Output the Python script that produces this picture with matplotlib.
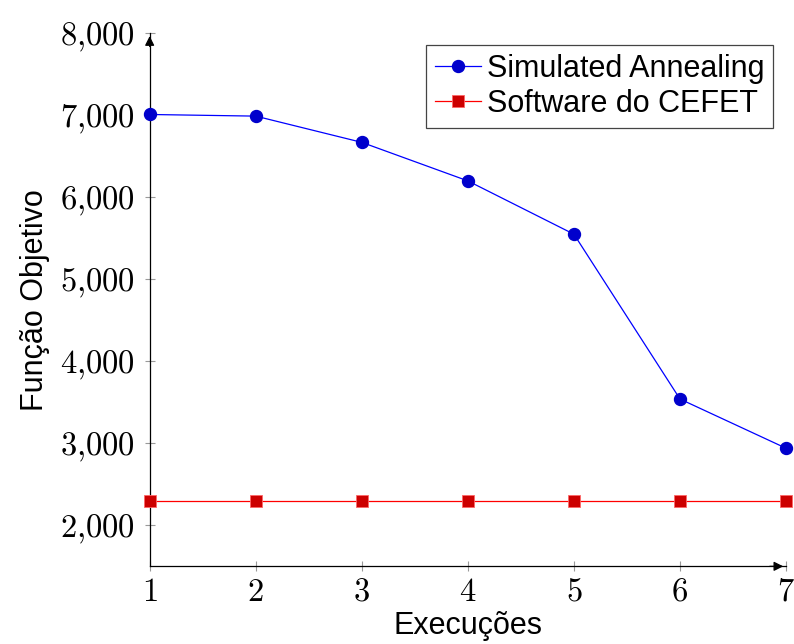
import matplotlib
matplotlib.use("Agg")
import matplotlib.pyplot as plt

plt.rcParams['font.family'] = ['Liberation Sans', 'DejaVu Sans']
plt.rcParams['mathtext.fontset'] = 'cm'

execucoes = [1, 2, 3, 4, 5, 6, 7]
simulated_annealing = [7010, 6990, 6670, 6200, 5550, 3540, 2940]
software_cefet = [2300, 2300, 2300, 2300, 2300, 2300, 2300]
y_ticks = [2000, 3000, 4000, 5000, 6000, 7000, 8000]

fig = plt.figure(figsize=(7.94, 6.44), dpi=100)
ax = fig.add_axes([0.1885, 0.1206, 0.8015, 0.8277])

ax.plot(execucoes, simulated_annealing, color='blue', lw=0.9, marker='o', ms=8.6,
        mfc='#0000cc', mec='#0000cc', label='Simulated Annealing', clip_on=False, zorder=3)
ax.plot(execucoes, software_cefet, color='red', lw=0.9, marker='s', ms=8.0,
        mfc='#cc0000', mec='#ff6666', mew=0.6, label='Software do CEFET', clip_on=False, zorder=3)

ax.set_xlim(1, 7)
ax.set_ylim(1500, 8000)
ax.set_xticks(execucoes)
ax.set_xticklabels([f'${v}$' for v in execucoes])
ax.set_yticks(y_ticks)
ax.set_yticklabels([f'${v // 1000}{{,}}000$' for v in y_ticks])

for s in ['top', 'right']:
    ax.spines[s].set_visible(False)
for s in ['left', 'bottom']:
    ax.spines[s].set_linewidth(0.9)
ax.tick_params(direction='inout', length=7, width=0.8, color='#999999',
               labelsize=23.5, labelcolor='black', pad=4)
ax.tick_params(axis='y', pad=7)

# axis arrows
ax.annotate('', xy=(1.0, 0), xytext=(0.97, 0), xycoords='axes fraction',
            arrowprops=dict(arrowstyle='-|>', color='black', lw=0.9, mutation_scale=14))
ax.annotate('', xy=(0, 1.0), xytext=(0, 0.97), xycoords='axes fraction',
            arrowprops=dict(arrowstyle='-|>', color='black', lw=0.9, mutation_scale=14))

ax.set_xlabel('Execuções', fontsize=22, labelpad=2)
ax.set_ylabel('Função Objetivo', fontsize=22, labelpad=7)

leg = ax.legend(loc='upper right', bbox_to_anchor=(0.98, 0.978), fontsize=22,
                frameon=True, fancybox=False, edgecolor='#444444', framealpha=1,
                handlelength=1.5, handletextpad=0.2, borderpad=0.3, labelspacing=0.15,
                borderaxespad=0, alignment='center')
leg.get_frame().set_linewidth(0.9)

fig.savefig('out.png', dpi=100)
